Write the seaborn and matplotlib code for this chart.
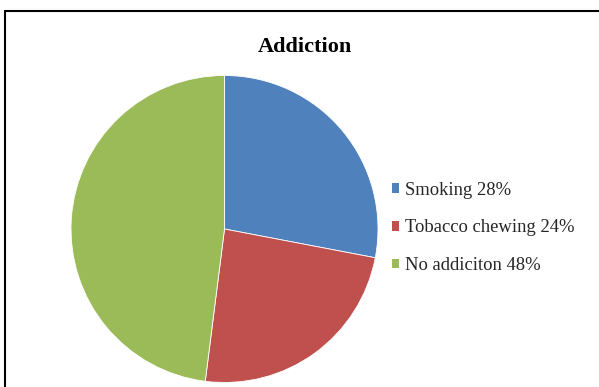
import matplotlib
matplotlib.use("Agg")
import matplotlib.pyplot as plt
import seaborn as sns
from matplotlib.patches import Patch
from matplotlib.lines import Line2D

categories = ["Smoking", "Tobacco chewing", "No addiciton"]
values = [28, 24, 48]
legend_labels = ["Smoking 28%", "Tobacco chewing 24%", "No addiciton 48%"]
colors = ["#4F81BD", "#C0504D", "#9BBB59"]
title = "Addiction"

sns.set_theme(style="white")
plt.rcParams["font.family"] = ["Liberation Serif", "DejaVu Serif"]

W, H = 599, 387
fig = plt.figure(figsize=(W / 100, H / 100), dpi=100)
fig.patch.set_facecolor("white")

cx, cy, r = 224.5, 229, 153.5
ax = fig.add_axes([(cx - r) / W, (H - cy - r) / H, 2 * r / W, 2 * r / H])
ax.pie(values, colors=colors, startangle=90, counterclock=False,
       wedgeprops=dict(linewidth=0.6, edgecolor="white"))
ax.set_xlim(-1, 1)
ax.set_ylim(-1, 1)
ax.set_aspect("equal")
ax.axis("off")

fig.text(305 / W, 1 - 47 / H, title, ha="center", va="center",
         fontsize=16, fontweight="bold", color="black")

handles = [Patch(facecolor=c, edgecolor="none") for c in colors]
fig.legend(handles, legend_labels, loc="center left",
           bbox_to_anchor=(392 / W, 1 - 228 / H), frameon=False,
           fontsize=13.4, handlelength=0.4, handleheight=0.4,
           handletextpad=0.3, labelspacing=1.12, borderpad=0, borderaxespad=0)

# chart frame (top and left edges visible)
fig.add_artist(Line2D([4.5 / W, 1], [1 - 10.5 / H, 1 - 10.5 / H],
                      transform=fig.transFigure, color="black", linewidth=1.5))
fig.add_artist(Line2D([4.5 / W, 4.5 / W], [1 - 10.5 / H, 0],
                      transform=fig.transFigure, color="black", linewidth=1.5))

fig.savefig("out.png", dpi=100)
